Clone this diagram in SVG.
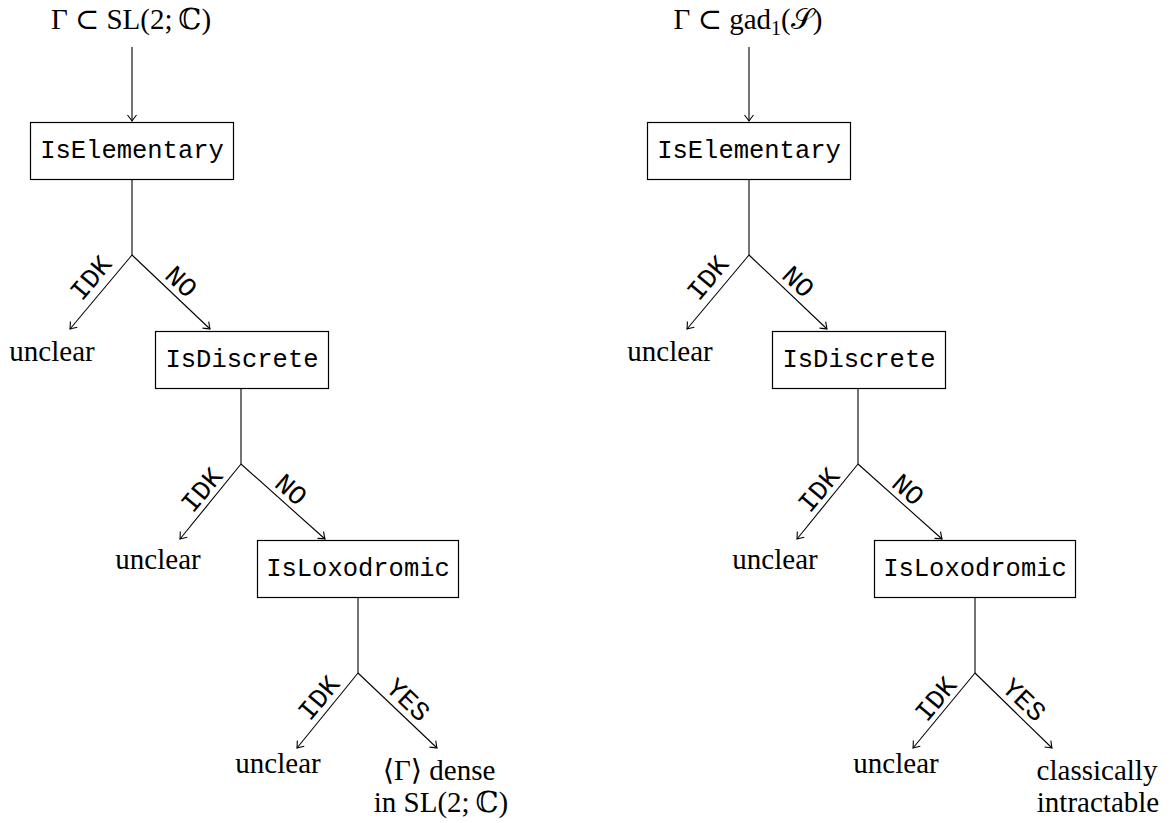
<svg xmlns="http://www.w3.org/2000/svg" width="1172" height="823" viewBox="0 0 1172 823">
<style>
.box{fill:#fff;stroke:#000;stroke-width:1.2}
.mono{font-family:"Liberation Mono","DejaVu Sans Mono",monospace;font-size:25.5px;fill:#000}
.lab{font-family:"Liberation Mono","DejaVu Sans Mono",monospace;font-size:27px;fill:#000}
.ser{font-family:"Liberation Serif","DejaVu Serif",serif;font-size:29px;fill:#000}
.edge{stroke:#000;stroke-width:1.1;fill:none}
</style>
<defs>
<marker id="arr" markerUnits="userSpaceOnUse" markerWidth="14" markerHeight="14" viewBox="-7 -7 14 14" refX="0" refY="0" orient="auto">
<path d="M -6 -4.5 Q -1.8 -1.2 0 0 Q -1.8 1.2 -6 4.5" stroke="#000" stroke-width="1.1" fill="none"/>
</marker>
</defs>
<g id="connectors">
<line class="edge" x1="132" y1="47" x2="132" y2="121" marker-end="url(#arr)"/>
<polyline class="edge" points="132,179 132,255"/>
<line class="edge" x1="132" y1="255" x2="70" y2="329" marker-end="url(#arr)"/>
<line class="edge" x1="132" y1="255" x2="210" y2="329" marker-end="url(#arr)"/>
<polyline class="edge" points="241,388 241,464"/>
<line class="edge" x1="241" y1="464" x2="180" y2="539" marker-end="url(#arr)"/>
<line class="edge" x1="241" y1="464" x2="325" y2="539" marker-end="url(#arr)"/>
<polyline class="edge" points="358,597 358,673"/>
<line class="edge" x1="358" y1="673" x2="297" y2="748" marker-end="url(#arr)"/>
<line class="edge" x1="358" y1="673" x2="437" y2="748" marker-end="url(#arr)"/>
<line class="edge" x1="749" y1="47" x2="749" y2="121" marker-end="url(#arr)"/>
<polyline class="edge" points="749,179 749,255"/>
<line class="edge" x1="749" y1="255" x2="687" y2="329" marker-end="url(#arr)"/>
<line class="edge" x1="749" y1="255" x2="827" y2="329" marker-end="url(#arr)"/>
<polyline class="edge" points="858,388 858,464"/>
<line class="edge" x1="858" y1="464" x2="797" y2="539" marker-end="url(#arr)"/>
<line class="edge" x1="858" y1="464" x2="942" y2="539" marker-end="url(#arr)"/>
<polyline class="edge" points="975,597 975,673"/>
<line class="edge" x1="975" y1="673" x2="913" y2="748" marker-end="url(#arr)"/>
<line class="edge" x1="975" y1="673" x2="1052" y2="748" marker-end="url(#arr)"/>
</g>
<g id="edge-labels">
<text class="lab" text-anchor="middle" dominant-baseline="central" transform="translate(92,279) rotate(-50)">IDK</text>
<text class="lab" text-anchor="middle" dominant-baseline="central" transform="translate(180,283) rotate(43.5)">NO</text>
<text class="lab" text-anchor="middle" dominant-baseline="central" transform="translate(203,491) rotate(-50)">IDK</text>
<text class="lab" text-anchor="middle" dominant-baseline="central" transform="translate(290,491) rotate(41.4)">NO</text>
<text class="lab" text-anchor="middle" dominant-baseline="central" transform="translate(320,699) rotate(-50)">IDK</text>
<text class="lab" text-anchor="middle" dominant-baseline="central" transform="translate(407,701) rotate(43.5)">YES</text>
<text class="lab" text-anchor="middle" dominant-baseline="central" transform="translate(709,279) rotate(-50)">IDK</text>
<text class="lab" text-anchor="middle" dominant-baseline="central" transform="translate(797,283) rotate(43.5)">NO</text>
<text class="lab" text-anchor="middle" dominant-baseline="central" transform="translate(820,491) rotate(-50)">IDK</text>
<text class="lab" text-anchor="middle" dominant-baseline="central" transform="translate(907,491) rotate(41.4)">NO</text>
<text class="lab" text-anchor="middle" dominant-baseline="central" transform="translate(937,700) rotate(-50)">IDK</text>
<text class="lab" text-anchor="middle" dominant-baseline="central" transform="translate(1023,701) rotate(43.5)">YES</text>
</g>
<g id="start-left"><text class="ser" x="131" y="29" text-anchor="middle">Γ ⊂ SL(2;&#8201;ℂ)</text></g>
<g id="iselem-left"><rect class="box" x="30.5" y="122.5" width="203" height="57"/><text class="mono" x="132" y="151" text-anchor="middle" dominant-baseline="central">IsElementary</text></g>
<g id="unclear-l1"><text class="ser" x="52" y="361" text-anchor="middle">unclear</text></g>
<g id="isdisc-left"><rect class="box" x="155.5" y="331.5" width="173" height="57"/><text class="mono" x="242" y="360" text-anchor="middle" dominant-baseline="central">IsDiscrete</text></g>
<g id="unclear-l2"><text class="ser" x="158" y="569" text-anchor="middle">unclear</text></g>
<g id="islox-left"><rect class="box" x="257.5" y="540.5" width="201" height="57"/><text class="mono" x="358" y="569" text-anchor="middle" dominant-baseline="central">IsLoxodromic</text></g>
<g id="unclear-l3"><text class="ser" x="278" y="773" text-anchor="middle">unclear</text></g>
<g id="dense"><text class="ser" x="439" y="780" text-anchor="middle">⟨Γ⟩ dense</text><text class="ser" x="441" y="812" text-anchor="middle">in SL(2;&#8201;ℂ)</text></g>
<g id="start-right"><text class="ser" x="748" y="29" text-anchor="middle">Γ ⊂ gad<tspan font-size="20" dy="6">1</tspan><tspan dy="-6">(𝒮)</tspan></text></g>
<g id="iselem-right"><rect class="box" x="647.5" y="122.5" width="203" height="57"/><text class="mono" x="749" y="151" text-anchor="middle" dominant-baseline="central">IsElementary</text></g>
<g id="unclear-r1"><text class="ser" x="670" y="361" text-anchor="middle">unclear</text></g>
<g id="isdisc-right"><rect class="box" x="772.5" y="331.5" width="173" height="57"/><text class="mono" x="859" y="360" text-anchor="middle" dominant-baseline="central">IsDiscrete</text></g>
<g id="unclear-r2"><text class="ser" x="775" y="569" text-anchor="middle">unclear</text></g>
<g id="islox-right"><rect class="box" x="874.5" y="540.5" width="201" height="57"/><text class="mono" x="975" y="569" text-anchor="middle" dominant-baseline="central">IsLoxodromic</text></g>
<g id="unclear-r3"><text class="ser" x="896" y="773" text-anchor="middle">unclear</text></g>
<g id="intractable"><text class="ser" x="1097" y="780" text-anchor="middle">classically</text><text class="ser" x="1098" y="812" text-anchor="middle">intractable</text></g>
</svg>
